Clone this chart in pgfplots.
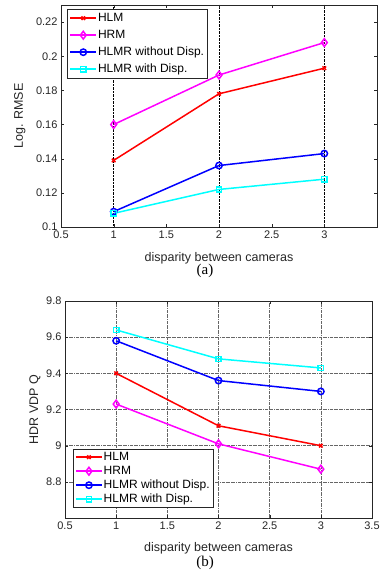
\documentclass[border=0pt]{standalone}
\usepackage{pgfplots}
\pgfplotsset{compat=1.18}
\usepackage{fontspec}
\setmainfont{Liberation Sans}
\newfontfamily\capfont{Liberation Serif}
\definecolor{axgray}{RGB}{38,38,38}
\definecolor{mred}{RGB}{255,0,0}
\definecolor{mmag}{RGB}{255,0,255}
\definecolor{mblue}{RGB}{0,0,255}
\definecolor{mcyan}{RGB}{0,255,255}
\begin{document}
\begin{tikzpicture}
\path (0pt,0pt) rectangle (381pt,-580pt);
\pgfplotsset{
  common/.style={
    scale only axis,
    /pgf/number format/assume math mode=true,
    font=\fontsize{11}{13}\selectfont,
    tick label style={font=\fontsize{11}{13}\selectfont, text=axgray},
    label style={font=\fontsize{12.5}{14}\selectfont, text=axgray},
    axis line style={axgray},
    tick style={axgray},
    tick align=inside,
    xtick pos=both, ytick pos=both,
    major tick length=3pt,
    xmin=0.5, xmax=3.5,
    scaled y ticks=false,
    legend cell align=left,
    legend image code/.code={
      \draw[#1] (0pt,0pt) -- (13pt,0pt);
      \draw[#1,only marks] plot coordinates {(13pt,0pt)};
      \draw[#1] (13pt,0pt) -- (26pt,0pt);
    },
    every axis plot/.append style={line width=1.5pt},
  },
  s1/.style={mred, mark=x, mark size=2.5pt},
  s2/.style={mmag, mark=diamond, mark size=3.9pt},
  s3/.style={mblue, mark=o, mark size=3.2pt},
  s4/.style={mcyan, mark=square, mark size=2.6pt},
}
\begin{axis}[common,
  at={(61pt,-227pt)}, anchor=south west,
  width=316pt, height=222pt,
  ymin=0.1, ymax=0.23,
  xtick={0.5,1,1.5,2,2.5,3},
  ytick={0.1,0.12,0.14,0.16,0.18,0.2,0.22},
  yticklabels={0.1,0.12,0.14,0.16,0.18,0.2,0.22},
  xticklabels={0.5,1,1.5,2,2.5,3},
  extra x ticks={1,2,3},
  extra x tick labels={},
  extra x tick style={grid=major, major grid style={black, densely dotted, line width=0.6pt}},
  xlabel={disparity between cameras},
  ylabel={Log. RMSE},
  xlabel style={at={(axis description cs:0.5,-0.14)}, anchor=center},
  ylabel style={at={(axis description cs:-0.13,0.5)}, anchor=center},
  legend style={at={(0.02,0.982)}, anchor=north west, draw=axgray, fill=white,
    font=\fontsize{12}{14}\selectfont, row sep=4pt, inner ysep=2.5pt, inner xsep=2pt,
    nodes={inner sep=1pt, text height=8.6pt, text depth=2.4pt}},
]
\addplot[s1] coordinates {(1,0.139) (2,0.178) (3,0.193)};
\addplot[s2] coordinates {(1,0.160) (2,0.189) (3,0.208)};
\addplot[s3] coordinates {(1,0.109) (2,0.136) (3,0.143)};
\addplot[s4] coordinates {(1,0.108) (2,0.122) (3,0.128)};
\legend{HLM,HRM,HLMR without Disp.,HLMR with Disp.}
\end{axis}
\node[font=\capfont\fontsize{15}{17}\selectfont] at (205pt,-271pt) {(a)};

\begin{axis}[common,
  at={(65pt,-518pt)}, anchor=south west,
  width=307pt, height=217pt,
  ymin=8.6, ymax=9.8,
  xtick={0.5,1,1.5,2,2.5,3,3.5},
  xticklabels={0.5,1,1.5,2,2.5,3,3.5},
  ytick={8.8,9,9.2,9.4,9.6,9.8},
  yticklabels={8.8,9,9.2,9.4,9.6,9.8},
  grid=major,
  major grid style={black!60, densely dashdotted, line width=0.5pt},
  xlabel={disparity between cameras},
  ylabel={HDR VDP Q},
  xlabel style={at={(axis description cs:0.5,-0.138)}, anchor=center},
  ylabel style={at={(axis description cs:-0.098,0.5)}, anchor=center},
  legend style={at={(0.026,0.318)}, anchor=north west, draw=axgray, fill=white,
    font=\fontsize{12}{14}\selectfont, row sep=1pt, inner ysep=1.5pt, inner xsep=2pt,
    nodes={inner sep=1pt, text height=8.6pt, text depth=2.4pt}},
]
\addplot[s1] coordinates {(1,9.40) (2,9.11) (3,9.00)};
\addplot[s2] coordinates {(1,9.23) (2,9.01) (3,8.87)};
\addplot[s3] coordinates {(1,9.58) (2,9.36) (3,9.30)};
\addplot[s4] coordinates {(1,9.64) (2,9.48) (3,9.43)};
\legend{HLM,HRM,HLMR without Disp.,HLMR with Disp.}
\end{axis}
\node[font=\capfont\fontsize{15}{17}\selectfont] at (205pt,-563pt) {(b)};
\end{tikzpicture}
\end{document}
